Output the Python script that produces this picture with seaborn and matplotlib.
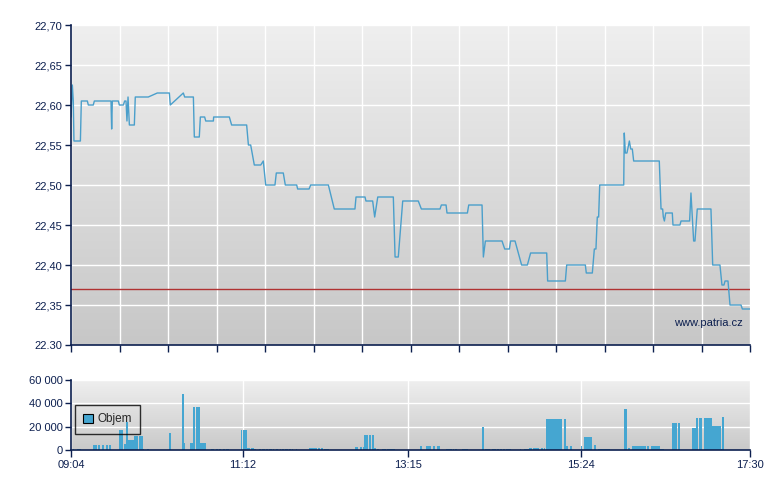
import numpy as np
import pandas as pd
import matplotlib
matplotlib.use("Agg")
import matplotlib.pyplot as plt
import seaborn as sns
from matplotlib.colors import LinearSegmentedColormap
from matplotlib.patches import Patch

# ---------------- data ----------------
# minutes after 09:04
price_minutes = [0.0, 1.0, 1.7, 2.2, 7.0, 7.7, 12.2, 12.9, 16.6, 17.4, 29.8, 30.3, 30.8, 35.3, 36.0,
                 39.0, 40.0, 41.0, 41.7, 42.5, 43.5, 47.2, 47.9, 57.6, 64.3, 73.3, 74.0, 83.7, 84.7,
                 91.2, 91.9, 95.6, 96.4, 99.6, 100.4, 106.1, 106.3, 118.0, 119.7, 130.9, 132.2, 133.9,
                 136.6, 141.4, 143.3, 145.1, 152.0, 153.0, 158.2, 159.7, 168.2, 168.9, 177.4, 178.6,
                 191.8, 196.2, 211.6, 212.4, 219.1, 219.8, 224.8, 226.3, 228.6, 240.2, 241.5, 243.9,
                 247.2, 258.8, 261.1, 275.0, 276.0, 279.5, 280.2, 295.4, 296.4, 306.3, 307.3, 308.8,
                 321.2, 323.2, 326.7, 327.6, 330.9, 335.8, 340.1, 342.5, 354.5, 355.2, 368.4, 369.4,
                 383.3, 384.0, 388.5, 390.0, 391.2, 392.2, 393.2, 394.0, 411.9, 412.3, 413.1, 414.3,
                 416.1, 417.1, 418.3, 419.3, 438.4, 439.7, 440.9, 441.4, 442.2, 443.2, 448.1, 448.6,
                 453.8, 454.6, 461.0, 462.0, 464.0, 465.0, 466.7, 476.9, 478.2, 483.6, 485.1, 486.6,
                 487.4, 489.6, 491.1, 499.3, 500.3, 506.0]
price_values = [22.585, 22.625, 22.605, 22.555, 22.555, 22.605, 22.605, 22.600, 22.600, 22.605, 22.605,
                22.570, 22.605, 22.605, 22.600, 22.600, 22.605, 22.605, 22.580, 22.610, 22.575, 22.575,
                22.610, 22.610, 22.615, 22.615, 22.600, 22.615, 22.610, 22.610, 22.560, 22.560, 22.585,
                22.585, 22.580, 22.580, 22.585, 22.585, 22.575, 22.575, 22.550, 22.550, 22.525, 22.525,
                22.530, 22.500, 22.500, 22.515, 22.515, 22.500, 22.500, 22.495, 22.495, 22.500, 22.500,
                22.470, 22.470, 22.485, 22.485, 22.480, 22.480, 22.460, 22.485, 22.485, 22.410, 22.410,
                22.480, 22.480, 22.470, 22.470, 22.475, 22.475, 22.465, 22.465, 22.475, 22.475, 22.410,
                22.430, 22.430, 22.420, 22.420, 22.430, 22.430, 22.400, 22.400, 22.415, 22.415, 22.380,
                22.380, 22.400, 22.400, 22.390, 22.390, 22.420, 22.420, 22.460, 22.460, 22.500, 22.500,
                22.565, 22.540, 22.540, 22.555, 22.545, 22.545, 22.530, 22.530, 22.470, 22.470, 22.460,
                22.455, 22.465, 22.465, 22.450, 22.450, 22.455, 22.455, 22.490, 22.430, 22.430, 22.470,
                22.470, 22.400, 22.400, 22.375, 22.375, 22.380, 22.380, 22.350, 22.350, 22.345, 22.345]

vol_minutes = [2, 5, 6, 7,
               17, 18.5, 21, 23.8, 26.8, 29,
               36, 37, 38, 40.2, 41, 41.9,
               43.2, 44.2, 45.5, 46.5, 47.7, 48.7, 49.7, 51.2, 52.7, 53.6, 57.2,
               74, 83.5, 84.3, 89.2, 90.2, 91.7, 93.8, 95.5, 96.5, 97.5, 98.5, 99.7,
               105, 106, 109, 111, 114, 116, 117,
               127.2, 128.7, 130.2, 132, 133, 134.5, 135.5, 137.3,
               141, 143, 144, 146, 148, 149, 151, 153, 154, 156, 158, 160, 161, 163, 165, 168,
               178, 179, 180, 181, 182.6, 184.6, 187, 189, 190, 191, 192,
               212, 213, 216, 218, 219, 220, 221, 222.8, 225, 226, 227, 228.6,
               232, 233, 234, 236, 237, 238, 239, 240.5,
               261, 265.3, 266.3, 267.5, 270.5, 273.5, 274.5,
               280, 281, 282, 283.4, 285, 287, 292, 293, 294, 295,
               307, 309, 310, 311, 312, 314, 315, 316, 318, 320.4, 322.6, 325, 326, 327,
               335, 338, 339, 340.6, 342, 343, 345, 346, 347, 348, 351, 353,
               354.7, 356.2, 357.8, 358.8, 359.8, 361.4, 362.9, 363.9, 365.1, 368.1,
               369, 370, 372.6, 380.3, 383, 384, 385, 386, 387, 388, 390, 391,
               393.5, 394.5, 395.5, 397, 398, 399, 400, 401,
               413, 414, 415.8,
               419, 420, 421, 422, 423, 424, 425, 426, 427, 428, 429.5, 430.5,
               432.5, 433.5, 434.5, 435.5, 436.5, 437.5, 438.5, 439.5, 440.5, 441.5,
               448.5, 449.5, 450.8, 453.3, 463.7, 464.7, 465.5,
               466.5, 468.8, 469.8, 472, 473, 474, 475, 476, 477,
               478.2, 479.2, 480.2, 481.4, 482.8, 483.8, 485, 486]
vol_values = [1000, 1000, 1000, 1000,
              4500, 4500, 4500, 4500, 4500, 4500,
              17000, 17000, 17000, 5300, 5300, 24000,
              8800, 8800, 8800, 8800, 12300, 12300, 12300, 12300, 12300, 800, 800,
              14500, 48000, 6000, 6000, 6000, 37000, 37000, 37000, 6000, 6000, 6000, 6000,
              800, 800, 800, 800, 800, 800, 800,
              17000, 17000, 17000, 1700, 1700, 1700, 1700, 800,
              800, 800, 800, 800, 800, 800, 800, 800, 800, 800, 800, 800, 800, 800, 800, 800,
              1800, 1800, 1800, 1800, 1800, 1800, 1800, 900, 900, 900, 900,
              2600, 2600, 2600, 2600, 13000, 13000, 13000, 13000, 13000, 1800, 1800, 900,
              900, 900, 900, 900, 900, 900, 900, 900,
              3500, 3500, 3500, 3500, 3500, 3500, 3500,
              900, 900, 900, 900, 900, 900, 900, 900, 900, 900,
              19500, 900, 900, 900, 900, 900, 900, 900, 900, 900, 900, 900, 900, 900,
              900, 900, 900, 900, 1800, 1800, 1800, 1800, 1800, 1800, 1800, 1800,
              27000, 27000, 27000, 27000, 27000, 27000, 27000, 27000, 27000, 27000,
              3500, 3500, 3500, 3500, 11500, 11500, 11500, 11500, 11500, 11500, 4400, 4400,
              900, 900, 900, 900, 900, 900, 900, 900,
              35300, 35300, 1800,
              3500, 3500, 3500, 3500, 3500, 3500, 3500, 3500, 3500, 3500, 3500, 3500,
              3500, 3500, 3500, 3500, 3500, 3500, 3500, 900, 900, 900,
              23000, 23000, 23000, 23000, 18500, 18500, 18500,
              27300, 27300, 27300, 27300, 27300, 27300, 27300, 27300, 27300,
              21000, 21000, 21000, 21000, 21000, 21000, 900, 28000]

ref_price = 22.37
price_ticks = [22.30, 22.35, 22.40, 22.45, 22.50, 22.55, 22.60, 22.65, 22.70]
price_tick_labels = ["22.30", "22,35", "22,40", "22,45", "22,50", "22,55", "22,60", "22,65", "22,70"]
vol_ticks = [0, 20000, 40000, 60000]
vol_tick_labels = ["0", "20 000", "40 000", "60 000"]
time_ticks = [0, 128, 251, 380, 506]
time_labels = ["09:04", "11:12", "13:15", "15:24", "17:30"]
session_len = 506
watermark = "www.patria.cz"
legend_label = "Objem"

# ---------------- style ----------------
sns.set_style("ticks")
plt.rcParams['font.family'] = ['Liberation Sans', 'DejaVu Sans']
navy = "#0c1f4f"
line_col = "#4a9fcb"
bar_col = "#45a6d1"
fs = 8

W, H = 780, 490
fig = plt.figure(figsize=(W / 100, H / 100), dpi=100)
ax1 = fig.add_axes([71 / W, 1 - 345 / H, 679 / W, 320 / H])
ax2 = fig.add_axes([71 / W, 1 - 450 / H, 679 / W, 70 / H])

def gradient(ax, lo, hi):
    cmap = LinearSegmentedColormap.from_list("g", [lo, hi])
    ax.imshow(np.linspace(0, 1, 256).reshape(-1, 1), extent=[0, 1, 0, 1],
              transform=ax.transAxes, aspect="auto", cmap=cmap, origin="lower", zorder=0)

gradient(ax1, "#c7c7c7", "#efefef")
gradient(ax2, "#c9c9c9", "#efefef")

# price
df_p = pd.DataFrame({"minute": price_minutes, "price": price_values})
sns.lineplot(data=df_p, x="minute", y="price", ax=ax1, color=line_col, lw=1.0,
             estimator=None, sort=False, zorder=3)
ax1.axhline(ref_price, color="#b03232", lw=1.0, zorder=2)
ax1.set_xlim(0, session_len)
ax1.set_ylim(price_ticks[0], price_ticks[-1])
ax1.set_yticks(price_ticks)
ax1.set_yticklabels(price_tick_labels)
ax1.set_xticks(np.linspace(0, session_len, 15))
ax1.tick_params(axis="x", labelbottom=False, length=5, width=1, color=navy, direction="out")
ax1.tick_params(axis="y", length=4, width=1, color=navy, labelcolor=navy, labelsize=fs, pad=2)
ax1.grid(True, color="white", lw=1.0)
ax1.set_axisbelow(True)
for g in ax1.get_xgridlines() + ax1.get_ygridlines():
    g.set_zorder(1)
ax1.set_xlabel("")
ax1.set_ylabel("")
ax1.text((743 - 71) / 679, (345 - 323) / 320, watermark, transform=ax1.transAxes,
         ha="right", va="center", color=navy, fontsize=fs, zorder=4)

# volume
df_v = pd.DataFrame({"minute": vol_minutes, "volume": vol_values})
ax2.bar(df_v["minute"], df_v["volume"], width=1.2, color=bar_col, lw=0, zorder=3,
        antialiased=False)
ax2.set_xlim(0, session_len)
ax2.set_ylim(vol_ticks[0], vol_ticks[-1])
ax2.set_yticks(vol_ticks)
ax2.set_yticklabels(vol_tick_labels)
ax2.set_xticks(time_ticks)
ax2.set_xticklabels(time_labels)
ax2.tick_params(axis="x", length=5, width=1, color=navy, labelcolor=navy, labelsize=fs, pad=2)
ax2.tick_params(axis="y", length=4, width=1, color=navy, labelcolor=navy, labelsize=fs, pad=2)
ax2.grid(True, color="white", lw=1.0)
for g in ax2.get_xgridlines() + ax2.get_ygridlines():
    g.set_zorder(1)
handle = Patch(facecolor=bar_col, edgecolor="black", lw=0.8, label=legend_label)
leg = ax2.legend(handles=[handle], loc="upper left",
                 bbox_to_anchor=((75 - 71) / 679, (450 - 405) / 70), borderaxespad=0,
                 frameon=True, fancybox=False, edgecolor="black", facecolor="none",
                 fontsize=fs + 0.5, handlelength=0.8, handleheight=0.8, handletextpad=0.4,
                 borderpad=0.7)
leg.get_frame().set_linewidth(1.0)
leg.set_zorder(5)

for ax in (ax1, ax2):
    sns.despine(ax=ax)
    for s in ("left", "bottom"):
        ax.spines[s].set_color(navy)
        ax.spines[s].set_linewidth(1.2)
        ax.spines[s].set_zorder(4)

fig.savefig("out.png", dpi=100)
